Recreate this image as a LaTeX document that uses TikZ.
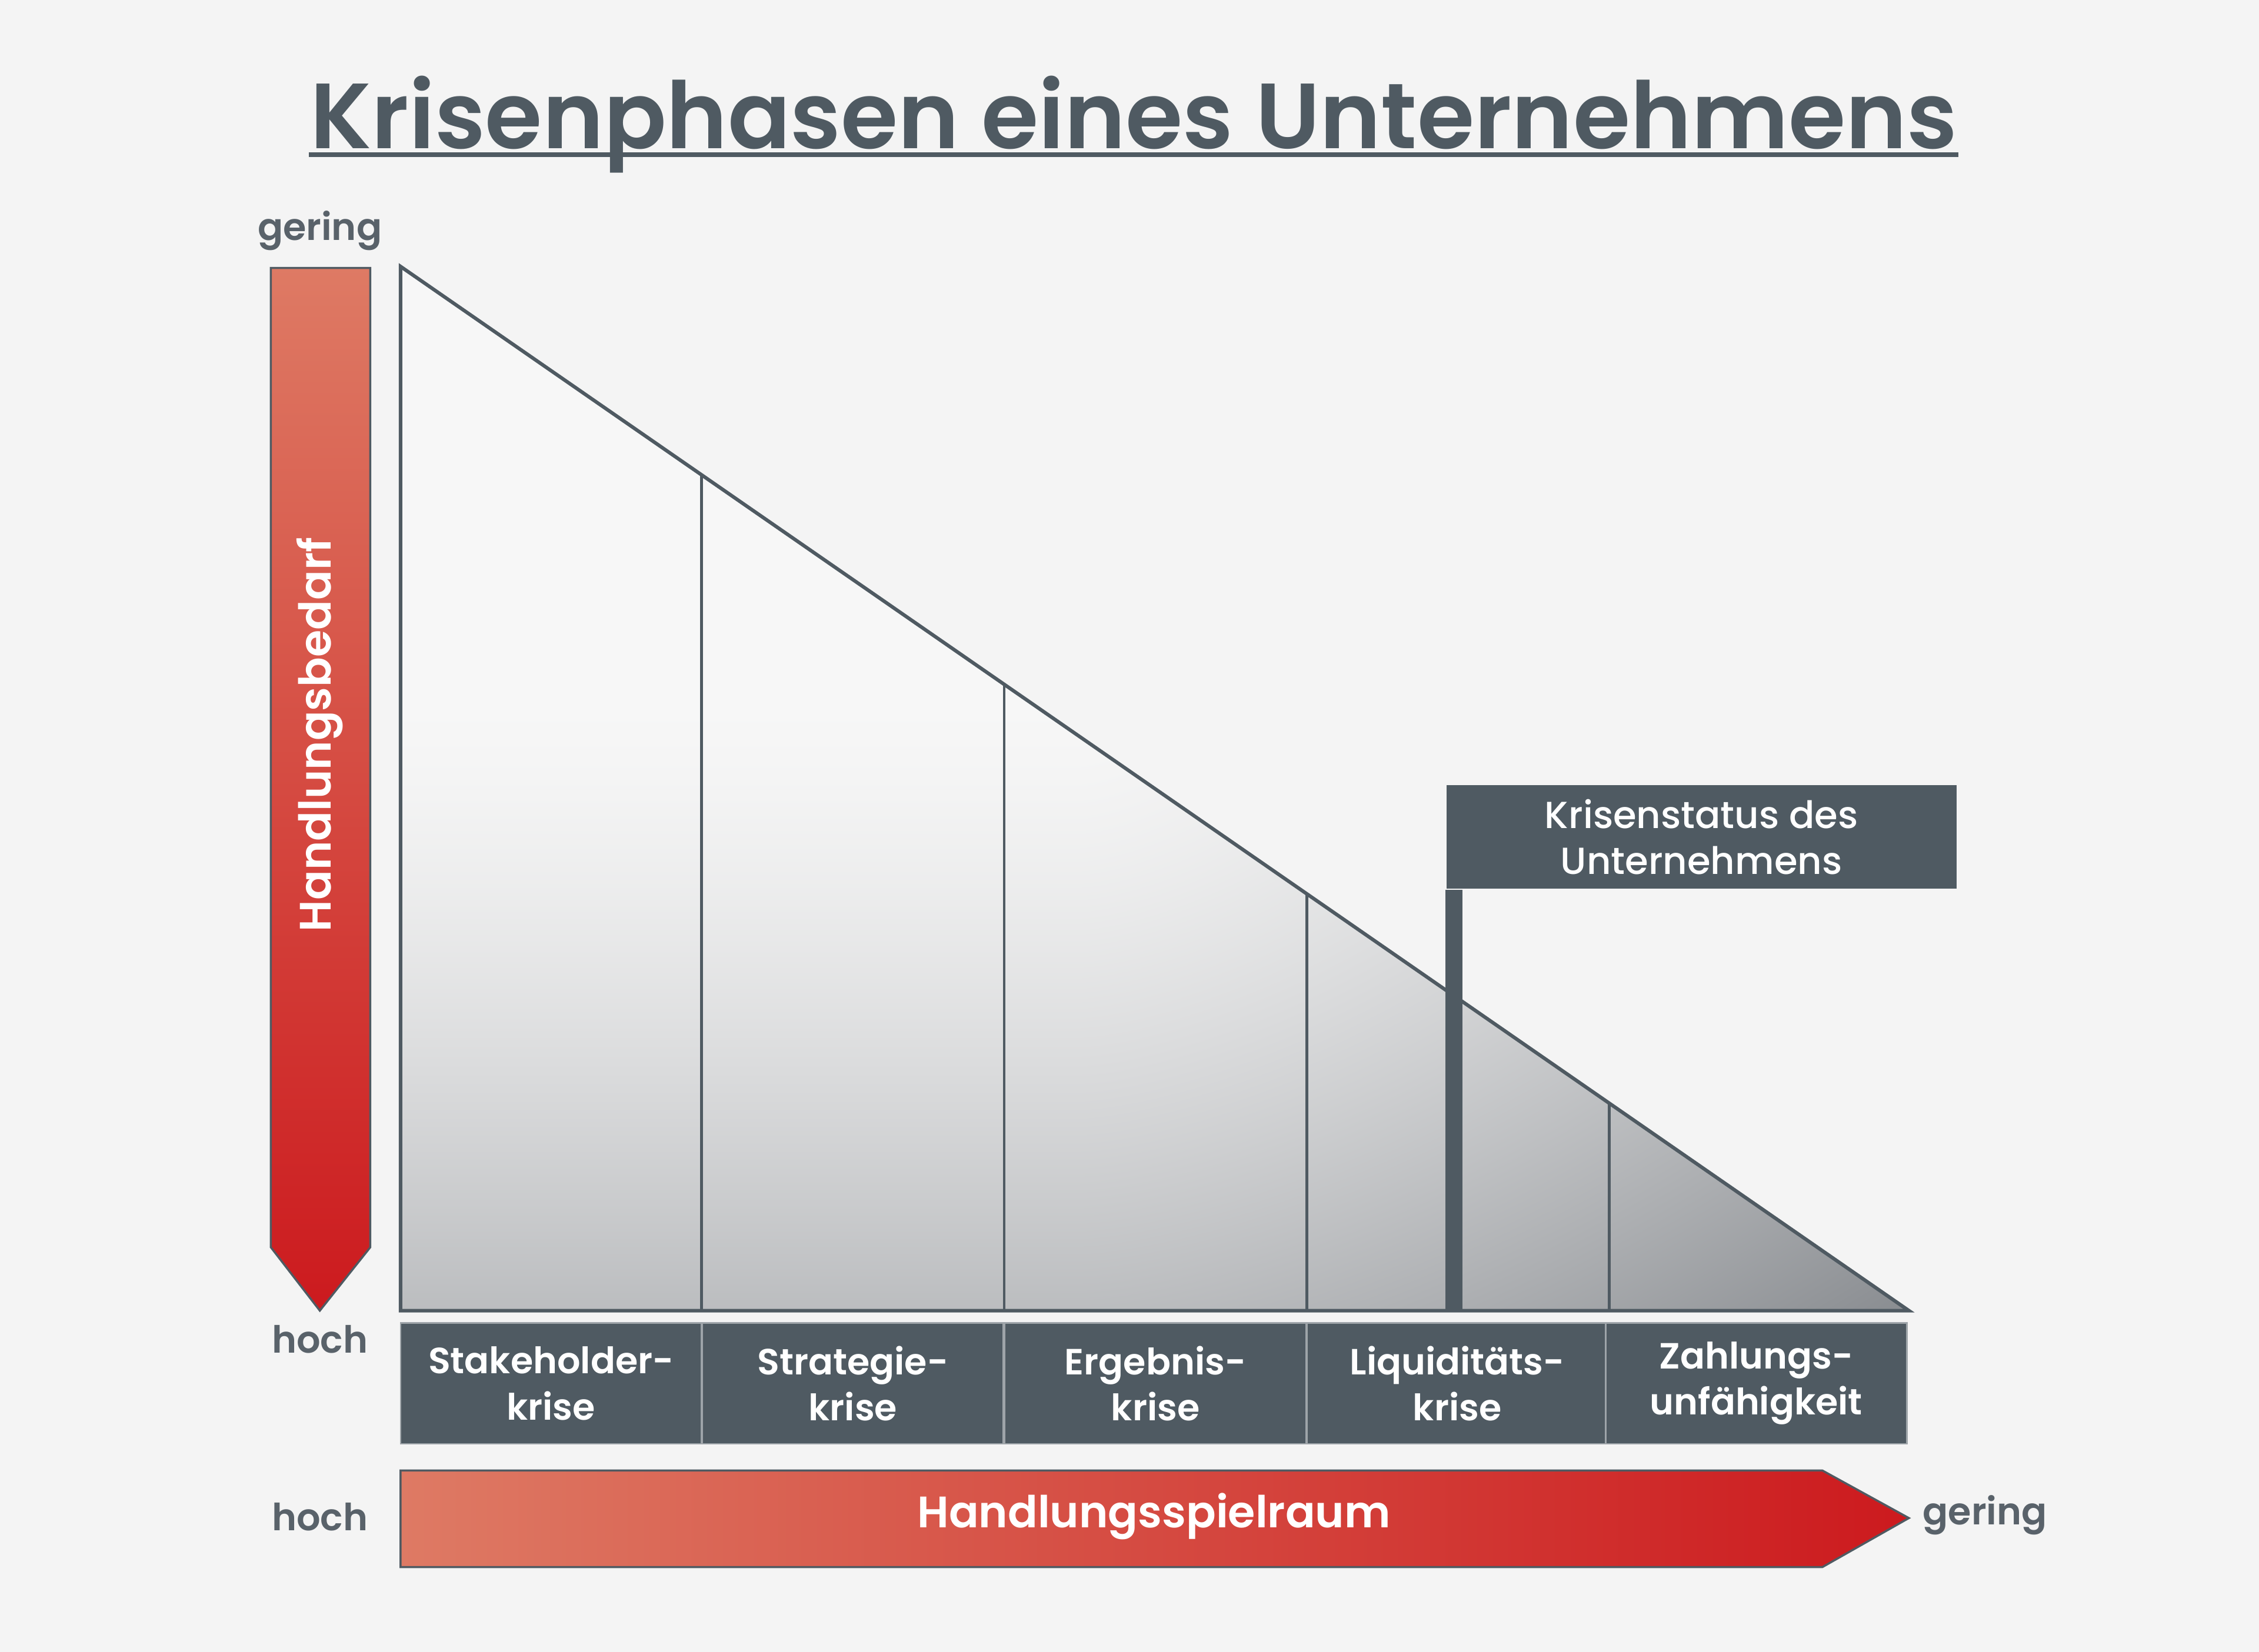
\documentclass[tikz,border=0pt]{standalone}
\usepackage{fontspec}
\setmainfont{Poppins}
\newfontfamily\semibold{Poppins SemiBold}
\newfontfamily\medium{Poppins Medium}
\usetikzlibrary{positioning,shadings}
\usepackage{xcolor}
\definecolor{slate}{HTML}{4F5A62}
\definecolor{salmon}{HTML}{DE7A64}
\definecolor{signal}{HTML}{CC1A1E}
\definecolor{paper}{HTML}{F4F4F4}
\definecolor{labelgray}{HTML}{59626A}
% light at the top left, grey towards the bottom and the right tip
\pgfdeclarefunctionalshading{crisisfill}{\pgfpointorigin}{\pgfpoint{100bp}{100bp}}{}{
    exch 25 sub 50 div
    exch 75 exch sub 50 div
    0.4 sub 0.6 div dup abs add 2 div dup sqrt mul 0.23 mul
    exch 0.45 sub 0.55 div dup abs add 2 div dup sqrt mul 0.19 mul
    add 0.97 exch sub
    dup dup dup 0.97 exch sub 0.04 mul add
    3 -1 roll dup 0.97 exch sub 0.03 mul sub 3 1 roll
}

\begin{document}
\begin{tikzpicture}[
    x=0.1mm, y=-0.1mm,
    phase/.style={
        fill=slate,
        draw=slate!55,
        line width=0.3pt,
        minimum width=20.9mm,
        minimum height=8.4mm,
        inner sep=0pt,
        text=white,
        font=\fontsize{7.2}{9.1}\selectfont\semibold,
        align=center,
    },
    scalelabel/.style={text=labelgray, inner sep=0pt, font=\fontsize{7.4}{8}\selectfont\semibold},
    arrowtext/.style={text=white, inner sep=0pt, font=\fontsize{8.7}{10}\selectfont\semibold},
    edge/.style={draw=slate, line width=0.7pt},
]

\fill[paper] (0,0) rectangle (1568,1147);
\useasboundingbox (0,0) rectangle (1568,1147);

\node[anchor=base, inner sep=0pt, text=slate, font=\fontsize{18.3}{20}\selectfont\semibold] (title) at (787,103) {Krisenphasen eines Unternehmens};
\draw[slate, line width=0.9pt] ([yshift=-0.45mm]title.base west) -- ([yshift=-0.45mm]title.base east);

% Handlungsbedarf
\shade[top color=salmon, bottom color=signal] (188,186) -- (257,186) -- (257,866) -- (222,910) -- (188,866) -- cycle;
\draw[edge, line width=0.4pt] (188,186) -- (257,186) -- (257,866) -- (222,910) -- (188,866) -- cycle;
\node[arrowtext, rotate=90] (need) at (222,510) {Handlungsbedarf};
\node[scalelabel] (needlow) at (222,160) {gering};
\node[scalelabel] (needhigh) at (222,930) {hoch};

% triangle
\shade[shading=crisisfill] (278,185) -- (278,910) -- (1325,910) -- cycle;
\draw[edge] (278,185) -- (278,910) -- (1325,910) -- cycle;
\foreach \x in {487,697,907,1117}
    \draw[edge, line width=0.55pt] (\x,{185+0.69245*(\x-278)}) -- (\x,910);

\node[fill=slate, minimum width=35.4mm, minimum height=7.2mm, inner sep=0pt, text=white, align=center,
    font=\fontsize{7.45}{9.1}\selectfont\medium] (status) at (1181,581) {Krisenstatus des\\Unternehmens};
\fill[slate] (status.south west) rectangle (1015,910);

\node[phase] (P1) at (382.5,960.5) {Stakeholder-\\krise};
\node[phase] (P2) at (592,960.5) {Strategie-\\krise};
\node[phase] (P3) at (802,960.5) {Ergebnis-\\krise};
\node[phase] (P4) at (1011.5,960.5) {Liquiditäts-\\krise};
\node[phase] (P5) at (1219,960.5) {Zahlungs-\\unfähigkeit};

% Handlungsspielraum
\shade[left color=salmon, right color=signal] (278,1021) -- (1265,1021) -- (1325,1054) -- (1265,1088) -- (278,1088) -- cycle;
\draw[edge, line width=0.4pt] (278,1021) -- (1265,1021) -- (1325,1054) -- (1265,1088) -- (278,1088) -- cycle;
\node[arrowtext] (room) at (801,1053) {Handlungsspielraum};
\node[scalelabel] (roomhigh) at (222,1053) {hoch};
\node[scalelabel, anchor=west] (roomlow) at (1334,1052) {gering};

\end{tikzpicture}
\end{document}
